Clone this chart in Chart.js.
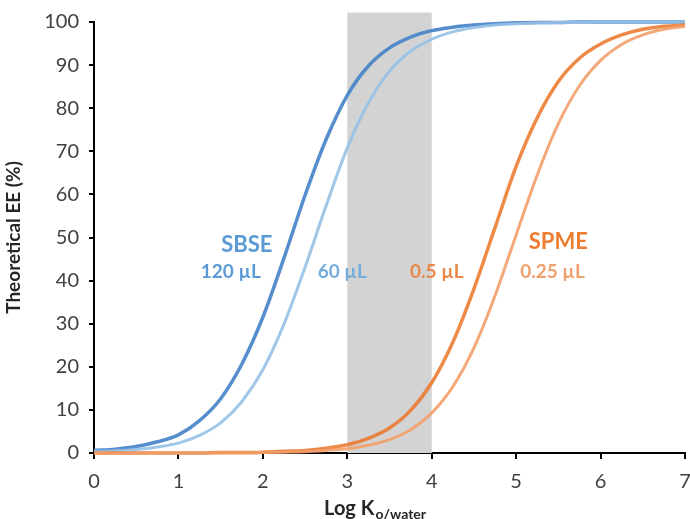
<!DOCTYPE html>
<html>
<head>
	<meta charset="utf-8">
	<script src="https://cdn.jsdelivr.net/npm/chart.js@4.4.0/dist/chart.umd.min.js"></script>
	<style>
		html, body { margin: 0; padding: 0; background: #fff; }
		.chart-container { width: 690px; height: 519px; }
	</style>
</head>
<body>
	<div class="chart-container">
		<canvas id="myChart"></canvas>
	</div>
	<script>
		// values, every 0.25 log unit
		var logK = [0, 0.25, 0.5, 0.75, 1, 1.25, 1.5, 1.75, 2, 2.25, 2.5, 2.75, 3, 3.25, 3.5, 3.75,
			4, 4.25, 4.5, 4.75, 5, 5.25, 5.5, 5.75, 6, 6.25, 6.5, 6.75, 7];
		var sbse120 = [0.6, 0.9, 1.5, 2.6, 4.2, 7.5, 12.6, 20.6, 31.5, 45.2, 59.8, 72.8, 83.0, 89.8, 94.0, 96.5,
			98.0, 98.8, 99.3, 99.6, 99.8, 99.9, 99.9, 100, 100, 100, 100, 100, 100];
		var sbse60 = [0.4, 0.5, 0.8, 1.4, 2.3, 4.1, 7.0, 11.9, 19.3, 29.9, 43.1, 57.4, 70.8, 81.2, 88.6, 93.2,
			96.0, 97.7, 98.7, 99.3, 99.6, 99.8, 99.9, 99.9, 100, 100, 100, 100, 100];
		var spme05 = [0, 0, 0, 0, 0, 0, 0.1, 0.1, 0.2, 0.4, 0.6, 1.1, 1.9, 3.4, 5.8, 9.9,
			16.3, 25.7, 38.1, 52.3, 66.5, 77.8, 86.2, 91.6, 94.9, 97.0, 98.3, 99.0, 99.3];
		var spme025 = [0, 0, 0, 0, 0, 0, 0, 0, 0.1, 0.2, 0.3, 0.6, 1.0, 1.8, 3.1, 5.4,
			9.3, 15.4, 24.4, 36.5, 50.6, 64.5, 76.4, 85.2, 91.1, 94.8, 97.0, 98.3, 99.0];

		var xTicks = [0, 1, 2, 3, 4, 5, 6, 7];
		var yTicks = [0, 10, 20, 30, 40, 50, 60, 70, 80, 90, 100];
		var band = [3, 4];
		var bandTop = 102.2;

		// curve labels: text, x, y in data units
		var labelTexts = ['SBSE', '120 µL', '60 µL', '0.5 µL', 'SPME', '0.25 µL'];
		var labelX = [1.81, 1.62, 2.94, 4.06, 5.50, 5.43];
		var labelY = [48.3, 42.0, 42.0, 42.0, 49.0, 42.0];
		var labelColors = ['#5b9bd5', '#5b9bd5', '#74acdb', '#e8884a', '#ed7d31', '#f0a06c'];
		var labelFonts = ['bold 22px Lato', 'bold 19px Lato', 'bold 19px Lato', 'bold 19px Lato', 'bold 22px Lato', 'bold 19px Lato'];

		function toPoints(vals) {
			return vals.map(function(v, i) { return {x: logK[i], y: v}; });
		}

		var bandPlugin = {
			id: 'band',
			beforeDatasetsDraw: function(chart) {
				var ctx = chart.ctx, xs = chart.scales.x, ys = chart.scales.y;
				var x1 = xs.getPixelForValue(band[0]);
				var x2 = xs.getPixelForValue(band[1]);
				var y1 = ys.getPixelForValue(bandTop);
				var y2 = ys.getPixelForValue(0);
				ctx.save();
				ctx.fillStyle = '#d3d3d3';
				ctx.fillRect(x1, y1, x2 - x1, y2 - y1);
				ctx.restore();
			}
		};

		var textPlugin = {
			id: 'texts',
			afterDraw: function(chart) {
				var ctx = chart.ctx, xs = chart.scales.x, ys = chart.scales.y;
				ctx.save();
				ctx.textAlign = 'center';
				ctx.textBaseline = 'middle';
				for (var i = 0; i < labelTexts.length; i++) {
					ctx.font = labelFonts[i];
					ctx.fillStyle = labelColors[i];
					ctx.fillText(labelTexts[i], xs.getPixelForValue(labelX[i]), ys.getPixelForValue(labelY[i]));
				}
				// x axis title with subscript
				ctx.textAlign = 'left';
				ctx.textBaseline = 'alphabetic';
				ctx.fillStyle = '#262626';
				ctx.font = 'bold 20px Lato';
				var main = 'Log K';
				var w1 = ctx.measureText(main).width;
				ctx.font = 'bold 14px Lato';
				var sub = 'o/water';
				var w2 = ctx.measureText(sub).width;
				var cx = (chart.chartArea.left + chart.chartArea.right) / 2 - 15;
				var x0 = cx - (w1 + w2) / 2;
				var base = 515;
				ctx.font = 'bold 20px Lato';
				ctx.fillText(main, x0, base);
				ctx.font = 'bold 14px Lato';
				ctx.fillText(sub, x0 + w1 + 1, base + 4);
				ctx.restore();
			}
		};

		var ctx = document.getElementById('myChart').getContext('2d');
		var myChart = new Chart(ctx, {
			type: 'line',
			data: {
				datasets: [
					{ label: 'SPME 0.25 µL', data: toPoints(spme025), borderColor: 'rgba(242,160,108,0.9)', borderWidth: 3 },
					{ label: 'SPME 0.5 µL', data: toPoints(spme05), borderColor: 'rgba(235,118,40,0.85)', borderWidth: 3.5 },
					{ label: 'SBSE 60 µL', data: toPoints(sbse60), borderColor: 'rgba(150,192,230,0.9)', borderWidth: 3 },
					{ label: 'SBSE 120 µL', data: toPoints(sbse120), borderColor: 'rgba(68,130,200,0.9)', borderWidth: 3.5 }
				]
			},
			options: {
				responsive: true,
				maintainAspectRatio: false,
				animation: false,
				layout: { padding: { left: 0, right: 5, top: 22, bottom: 0 } },
				elements: {
					point: { radius: 0 },
					line: { tension: 0.4, cubicInterpolationMode: 'monotone', fill: false }
				},
				datasets: { line: { clip: 4 } },
				scales: {
					x: {
						type: 'linear',
						min: 0,
						max: 7,
						afterFit: function(scale) {
							scale.height = 66;
							scale.paddingLeft = 0;
							scale.paddingRight = 0;
						},
						afterBuildTicks: function(scale) { scale.ticks = xTicks.map(function(v) { return {value: v}; }); },
						grid: { display: true, drawOnChartArea: false, drawTicks: true, tickLength: 6, color: '#000', lineWidth: 2 },
						border: { display: true, color: '#000', width: 2 },
						ticks: { color: '#404040', font: { family: 'Lato', size: 20 }, padding: 11, maxRotation: 0 }
					},
					y: {
						min: 0,
						max: 100,
						afterFit: function(scale) {
							scale.width = 94;
							scale.paddingTop = 0;
							scale.paddingBottom = 0;
						},
						afterBuildTicks: function(scale) { scale.ticks = yTicks.map(function(v) { return {value: v}; }); },
						grid: { display: true, drawOnChartArea: false, drawTicks: true, tickLength: 5, color: '#000', lineWidth: 2 },
						border: { display: true, color: '#000', width: 2 },
						ticks: { color: '#404040', font: { family: 'Lato', size: 20 }, padding: 10 },
						title: { display: true, text: 'Theoretical EE (%)', color: '#262626', font: { family: 'Lato', size: 19, weight: 'bold' }, padding: { top: 2, bottom: 0 } }
					}
				},
				plugins: {
					legend: { display: false },
					tooltip: { enabled: false }
				}
			},
			plugins: [bandPlugin, textPlugin]
		});
	</script>
</body>
</html>
